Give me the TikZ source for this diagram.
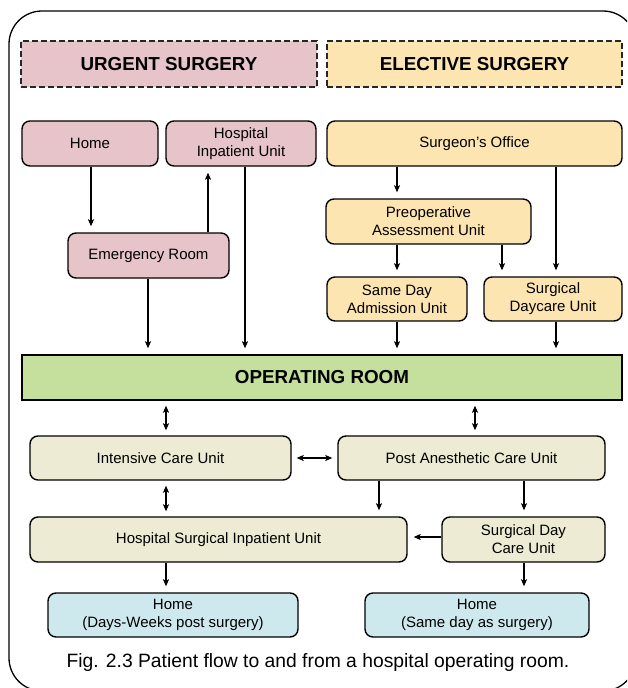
\documentclass[tikz,border=0pt]{standalone}
\usepackage{fontspec}
\setmainfont{Liberation Sans}
\usetikzlibrary{arrows.meta,calc}

\definecolor{urgentpink}{RGB}{231,196,202}
\definecolor{electiveyellow}{RGB}{253,229,178}
\definecolor{orgreen}{RGB}{197,223,157}
\definecolor{postbeige}{RGB}{237,235,211}
\definecolor{homeblue}{RGB}{206,233,238}

\tikzset{
  unitbox/.style={draw=black, line width=1.4pt, rounded corners=8pt,
    align=center, inner sep=0pt, font=\fontsize{15}{18}\selectfont},
  headbox/.style={draw=black!85, line width=1.4pt, dash pattern=on 6pt off 3pt,
    inner sep=0pt, font=\bfseries\fontsize{18.8}{22}\selectfont},
  flow/.style={line width=1.3pt, -{Stealth[length=7pt,width=6pt,inset=1.5pt]}, shorten >=6pt},
  twoway/.style={line width=1.3pt, {Stealth[length=7pt,width=6pt,inset=1.5pt]}-{Stealth[length=7pt,width=6pt,inset=1.5pt]},
    shorten >=5pt, shorten <=5pt}
}

\begin{document}
\begin{tikzpicture}[x=1pt,y=-1pt]
\useasboundingbox (0,0) rectangle (627,688);

% outer frame (runs past the right and bottom edges of the page)
\begin{scope}
\clip (0,0) rectangle (627,688);
\draw[line width=1.3pt, rounded corners=33pt] (9,11) rectangle (636,691);
\end{scope}

% section headers
\node[headbox, fill=urgentpink, minimum width=296pt, minimum height=46pt] (urgent) at (169,64) {URGENT SURGERY};
\node[headbox, fill=electiveyellow, minimum width=295pt, minimum height=46pt] (elective) at (474.5,64) {ELECTIVE SURGERY};

% urgent pathway
\node[unitbox, fill=urgentpink, minimum width=136pt, minimum height=45pt] (home) at (90,143.5) {Home};
\node[unitbox, fill=urgentpink, minimum width=150pt, minimum height=45pt] (hosp) at (241,143.5) {Hospital\\Inpatient Unit};
\node[unitbox, fill=urgentpink, minimum width=161pt, minimum height=45pt] (er) at (148.5,255.5) {Emergency Room};

% elective pathway
\node[unitbox, fill=electiveyellow, minimum width=295pt, minimum height=45pt] (surg) at (474.5,143.5) {Surgeon’s Office};
\node[unitbox, fill=electiveyellow, minimum width=205pt, minimum height=45pt] (preop) at (428.5,221.5) {Preoperative\\Assessment Unit};
\node[unitbox, fill=electiveyellow, minimum width=140pt, minimum height=44pt] (sda) at (397,299) {Same Day\\Admission Unit};
\node[unitbox, fill=electiveyellow, minimum width=138pt, minimum height=44pt] (sdc) at (553,299) {Surgical\\Daycare Unit};

% operating room
\node[draw=black, line width=1.4pt, fill=orgreen, minimum width=600pt, minimum height=45pt,
  inner sep=0pt, font=\bfseries\fontsize{18.8}{22}\selectfont] (or) at (322,377.5) {OPERATING ROOM};

% after surgery
\node[unitbox, fill=postbeige, minimum width=261pt, minimum height=44pt] (icu) at (160.5,458) {Intensive Care Unit};
\node[unitbox, fill=postbeige, minimum width=267pt, minimum height=44pt] (pacu) at (471.5,458) {Post Anesthetic Care Unit};
\node[unitbox, fill=postbeige, minimum width=377pt, minimum height=45pt] (hsiu) at (218.5,539.5) {Hospital Surgical Inpatient Unit};
\node[unitbox, fill=postbeige, minimum width=163pt, minimum height=45pt] (sdcu) at (523.5,539.5) {Surgical Day\\Care Unit};
\node[unitbox, fill=homeblue, minimum width=250pt, minimum height=44pt] (homea) at (173,615) {Home\\(Days-Weeks post surgery)};
\node[unitbox, fill=homeblue, minimum width=224pt, minimum height=44pt] (homeb) at (477,615) {Home\\(Same day as surgery)};

\node[font=\fontsize{19.3}{22}\selectfont] (caption) at (318,663) {Fig. 2.3 Patient flow to and from a hospital operating room.};

% connector columns
\coordinate (xhome) at (91,0);
\coordinate (xer) at (148,0);
\coordinate (xup) at (208,0);
\coordinate (xhosp) at (245,0);
\coordinate (xpre) at (397,0);
\coordinate (xpre2) at (502,0);
\coordinate (xsurg) at (556,0);
\coordinate (xicu) at (166,0);
\coordinate (xpacu) at (475,0);
\coordinate (xpl) at (379,0);
\coordinate (xpr) at (524,0);

% urgent flows
\draw[flow] (home.south -| xhome) -- (er.north -| xhome);
\draw[flow] (er.north -| xup) -- (hosp.south -| xup);
\draw[flow] (er.south -| xer) -- (or.north -| xer);
\draw[flow] (hosp.south -| xhosp) -- (or.north -| xhosp);

% elective flows
\draw[flow] (surg.south -| xpre) -- (preop.north -| xpre);
\draw[flow] (surg.south -| xsurg) -- (sdc.north -| xsurg);
\draw[flow] (preop.south -| xpre) -- (sda.north -| xpre);
\draw[flow] (preop.south -| xpre2) -- (sdc.north -| xpre2);
\draw[flow] (sda.south -| xpre) -- (or.north -| xpre);
\draw[flow] (sdc.south -| xsurg) -- (or.north -| xsurg);

% post-operative flows
\draw[twoway] (or.south -| xicu) -- (icu.north -| xicu);
\draw[twoway] (or.south -| xpacu) -- (pacu.north -| xpacu);
\draw[twoway] (icu.east) -- (pacu.west);
\draw[twoway] (icu.south -| xicu) -- (hsiu.north -| xicu);
\draw[flow] (pacu.south -| xpl) -- (hsiu.north -| xpl);
\draw[flow] (pacu.south -| xpr) -- (sdcu.north -| xpr);
\draw[flow] ($(sdcu.west)+(0,-2.5)$) -- ($(hsiu.east)+(0,-2.5)$);
\draw[flow] (hsiu.south -| xicu) -- (homea.north -| xicu);
\draw[flow] (sdcu.south -| xpr) -- (homeb.north -| xpr);
\end{tikzpicture}
\end{document}
